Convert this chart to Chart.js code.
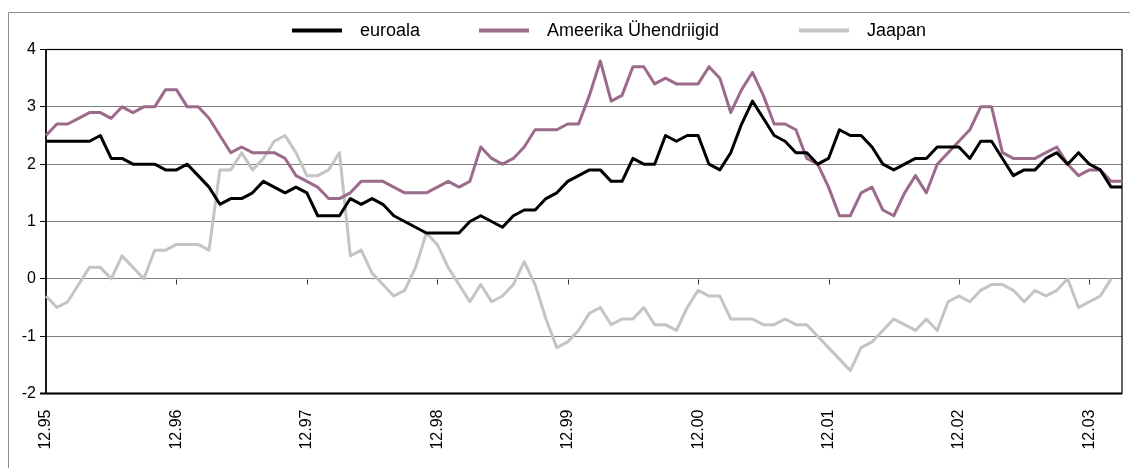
<!DOCTYPE html>
<html>
<head>
<meta charset="utf-8">
<script src="https://cdn.jsdelivr.net/npm/chart.js@4/dist/chart.umd.min.js"></script>
<style>
  html, body { margin: 0; padding: 0; background: #fff; }
</style>
</head>
<body>
<canvas id="chart" width="1130" height="468"></canvas>
<script>
// seeriad, kuu kaupa 12.95 ... 03.04
var seriesNames = ['euroala', 'Ameerika Ühendriigid', 'Jaapan']

var euro = [
  2.4, 2.4, 2.4, 2.4, 2.4, 2.5, 2.1, 2.1, 2.0, 2.0,
  2.0, 1.9, 1.9, 2.0, 1.8, 1.6, 1.3, 1.4, 1.4, 1.5,
  1.7, 1.6, 1.5, 1.6, 1.5, 1.1, 1.1, 1.1, 1.4, 1.3,
  1.4, 1.3, 1.1, 1.0, 0.9, 0.8, 0.8, 0.8, 0.8, 1.0,
  1.1, 1.0, 0.9, 1.1, 1.2, 1.2, 1.4, 1.5, 1.7, 1.8,
  1.9, 1.9, 1.7, 1.7, 2.1, 2.0, 2.0, 2.5, 2.4, 2.5,
  2.5, 2.0, 1.9, 2.2, 2.7, 3.1, 2.8, 2.5, 2.4, 2.2,
  2.2, 2.0, 2.1, 2.6, 2.5, 2.5, 2.3, 2.0, 1.9, 2.0,
  2.1, 2.1, 2.3, 2.3, 2.3, 2.1, 2.4, 2.4, 2.1, 1.8,
  1.9, 1.9, 2.1, 2.2, 2.0, 2.2, 2.0, 1.9, 1.6, 1.6
]

var usa = [
  2.5, 2.7, 2.7, 2.8, 2.9, 2.9, 2.8, 3.0, 2.9, 3.0,
  3.0, 3.3, 3.3, 3.0, 3.0, 2.8, 2.5, 2.2, 2.3, 2.2,
  2.2, 2.2, 2.1, 1.8, 1.7, 1.6, 1.4, 1.4, 1.5, 1.7,
  1.7, 1.7, 1.6, 1.5, 1.5, 1.5, 1.6, 1.7, 1.6, 1.7,
  2.3, 2.1, 2.0, 2.1, 2.3, 2.6, 2.6, 2.6, 2.7, 2.7,
  3.2, 3.8, 3.1, 3.2, 3.7, 3.7, 3.4, 3.5, 3.4, 3.4,
  3.4, 3.7, 3.5, 2.9, 3.3, 3.6, 3.2, 2.7, 2.7, 2.6,
  2.1, 2.0, 1.6, 1.1, 1.1, 1.5, 1.6, 1.2, 1.1, 1.5,
  1.8, 1.5, 2.0, 2.2, 2.4, 2.6, 3.0, 3.0, 2.2, 2.1,
  2.1, 2.1, 2.2, 2.3, 2.0, 1.8, 1.9, 1.9, 1.7, 1.7
]

var japan = [
  -0.3, -0.5, -0.4, -0.1, 0.2, 0.2, 0.0, 0.4, 0.2, 0.0,
  0.5, 0.5, 0.6, 0.6, 0.6, 0.5, 1.9, 1.9, 2.2, 1.9,
  2.1, 2.4, 2.5, 2.2, 1.8, 1.8, 1.9, 2.2, 0.4, 0.5,
  0.1, -0.1, -0.3, -0.2, 0.2, 0.8, 0.6, 0.2, -0.1, -0.4,
  -0.1, -0.4, -0.3, -0.1, 0.3, -0.1, -0.7, -1.2, -1.1, -0.9,
  -0.6, -0.5, -0.8, -0.7, -0.7, -0.5, -0.8, -0.8, -0.9, -0.5,
  -0.2, -0.3, -0.3, -0.7, -0.7, -0.7, -0.8, -0.8, -0.7, -0.8,
  -0.8, -1.0, -1.2, -1.4, -1.6, -1.2, -1.1, -0.9, -0.7, -0.8,
  -0.9, -0.7, -0.9, -0.4, -0.3, -0.4, -0.2, -0.1, -0.1, -0.2,
  -0.4, -0.2, -0.3, -0.2, 0.0, -0.5, -0.4, -0.3, 0.0, null
]

// x-telje sildid (iga aasta detsember)
var tickLabels = ['12.95', '12.96', '12.97', '12.98', '12.99', '12.00', '12.01', '12.02', '12.03']

// y-telje vahemik
var yMin = -2, yMax = 4, yStep = 1

// kuude nimed kujul KK.AA
var months = []
for (var k = 0; k < euro.length; k++) {
  var m = (11 + k) % 12 + 1
  var yy = (1995 + Math.floor((11 + k) / 12)) % 100
  months.push((m < 10 ? '0' : '') + m + '.' + (yy < 10 ? '0' : '') + yy)
}

var colors = ['#000000', '#9c6a8b', '#c4c4c4']
var legendX = [292, 479, 799]
var fontFamily = '"Liberation Sans", Arial, Helvetica, sans-serif'

// raam, nullijoone kriipsud ja legend
var decor = {
  id: 'decor',
  beforeDatasetsDraw: function (chart) {
    var ctx = chart.ctx, a = chart.chartArea
    var xs = chart.scales.x, ys = chart.scales.y
    ctx.save()
    // välimine raam
    ctx.strokeStyle = '#8c8c8c'
    ctx.lineWidth = 1
    ctx.beginPath()
    ctx.moveTo(8.5, 468)
    ctx.lineTo(8.5, 12.5)
    ctx.lineTo(1130, 12.5)
    ctx.stroke()
    // joonise raam
    ctx.strokeStyle = '#000'
    ctx.lineWidth = 1.2
    ctx.strokeRect(a.left, a.top, a.right - a.left, a.bottom - a.top)
    ctx.lineWidth = 2
    ctx.beginPath()
    ctx.moveTo(a.left - 6, a.bottom)
    ctx.lineTo(a.right, a.bottom)
    ctx.stroke()
    ctx.lineWidth = 1.5
    ctx.beginPath()
    ctx.moveTo(a.left, a.top)
    ctx.lineTo(a.left, a.bottom)
    ctx.stroke()
    // kriipsud nullijoonel
    var y0 = Math.round(ys.getPixelForValue(0)) + 0.5
    ctx.strokeStyle = '#333'
    ctx.lineWidth = 1
    months.forEach(function (lab, i) {
      if (tickLabels.indexOf(lab) < 0 || i === 0) return
      var x = Math.round(xs.getPixelForValue(i)) + 0.5
      ctx.beginPath()
      ctx.moveTo(x, y0)
      ctx.lineTo(x, y0 + 5)
      ctx.stroke()
    })
    ctx.restore()
  },
  afterDraw: function (chart) {
    var ctx = chart.ctx
    ctx.save()
    chart.data.datasets.forEach(function (ds, i) {
      var x = legendX[i], y = 30.5
      ctx.strokeStyle = ds.borderColor
      ctx.lineWidth = 4
      ctx.beginPath()
      ctx.moveTo(x, y)
      ctx.lineTo(x + 50, y)
      ctx.stroke()
      ctx.fillStyle = '#000'
      ctx.font = '18px ' + fontFamily
      ctx.textBaseline = 'middle'
      ctx.fillText(ds.label, x + 68, y + 1)
    })
    ctx.restore()
  }
}

var ctx = document.getElementById('chart').getContext('2d')

var chart = new Chart(ctx, {
  type: 'line',
  data: {
    labels: months,
    datasets: [
      { label: seriesNames[0], data: euro, borderColor: colors[0] },
      { label: seriesNames[1], data: usa, borderColor: colors[1] },
      { label: seriesNames[2], data: japan, borderColor: colors[2] }
    ]
  },
  options: {
    responsive: false,
    animation: false,
    events: [],
    layout: { padding: { top: 49.5, right: 8, left: 0, bottom: 0 } },
    elements: {
      line: { borderWidth: 3, tension: 0, borderJoinStyle: 'round', borderCapStyle: 'butt', fill: false },
      point: { radius: 0 }
    },
    plugins: {
      legend: { display: false },
      tooltip: { enabled: false }
    },
    scales: {
      x: {
        type: 'category',
        offset: false,
        grid: { display: false, drawTicks: false },
        border: { display: false },
        ticks: {
          autoSkip: false,
          maxRotation: 90,
          minRotation: 90,
          padding: 16,
          color: '#000',
          font: { family: fontFamily, size: 16 },
          callback: function (value, index) {
            var lab = months[index]
            return tickLabels.indexOf(lab) >= 0 ? lab : null
          }
        },
        afterFit: function (s) { s.height = 74.5; s.paddingLeft = 0; s.paddingRight = 0 }
      },
      y: {
        min: yMin,
        max: yMax,
        border: { display: false },
        grid: { color: '#808080', lineWidth: 1, tickColor: '#000', tickLength: 6, drawTicks: true },
        ticks: {
          stepSize: yStep,
          padding: 4,
          color: '#000',
          font: { family: fontFamily, size: 16 }
        },
        afterFit: function (s) { s.width = 46 }
      }
    }
  },
  plugins: [decor]
})
</script>
</body>
</html>
